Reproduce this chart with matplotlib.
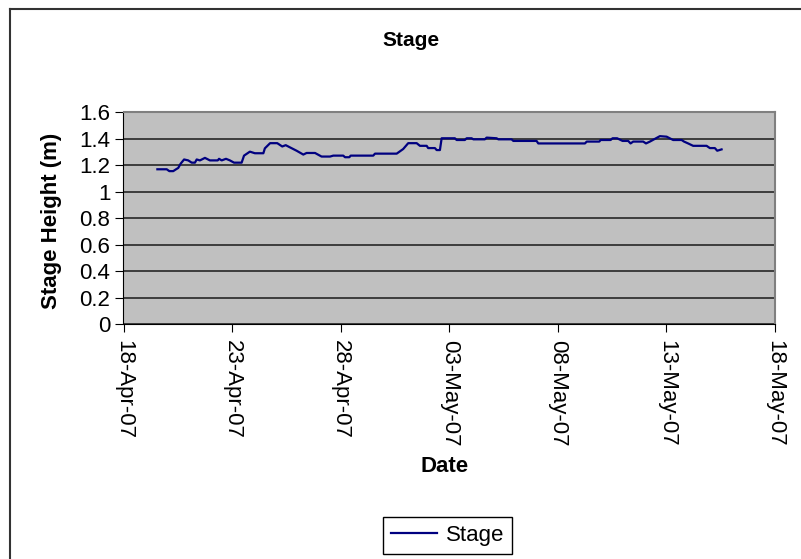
import matplotlib
matplotlib.use('Agg')
import matplotlib.pyplot as plt
import matplotlib.dates as mdates
from matplotlib.lines import Line2D
import numpy as np
import pandas as pd

plt.rcParams['font.family'] = ['Liberation Sans', 'DejaVu Sans']

# stage record (days after 18-Apr-07, metres)
start_date = pd.Timestamp('2007-04-18')
days = [1.56, 1.99, 2.11, 2.29, 2.42, 2.52, 2.63, 2.79, 2.98, 3.14, 3.29, 3.37,
        3.52, 3.75, 3.98, 4.34, 4.40, 4.52, 4.72, 4.90, 5.09, 5.44, 5.55, 5.82,
        6.05, 6.44, 6.51, 6.75, 7.08, 7.31, 7.47, 7.67, 7.97, 8.28, 8.43, 8.82,
        9.12, 9.51, 9.66, 10.12, 10.20, 10.40, 10.46, 11.50, 11.58, 12.58, 12.88,
        13.11, 13.50, 13.65, 13.96, 14.03, 14.34, 14.42, 14.57, 14.65,
        15.26, 15.34, 15.72, 15.80, 16.03, 16.11, 16.64, 16.72, 17.18, 17.26,
        17.87, 17.95, 19.02, 19.10, 21.25, 21.33, 21.91, 21.97, 22.43, 22.52,
        22.73, 22.98, 23.24, 23.35, 23.47, 23.93, 24.06, 24.24, 24.52, 24.70,
        25.01, 25.31, 25.70, 25.81, 26.00, 26.23, 26.85, 27.00, 27.23, 27.34, 27.54]
stage = [1.17, 1.17, 1.156, 1.156, 1.17, 1.18, 1.212, 1.244, 1.237, 1.22, 1.22, 1.244,
         1.237, 1.256, 1.237, 1.237, 1.249, 1.237, 1.249, 1.237, 1.22, 1.22, 1.273, 1.303,
         1.291, 1.291, 1.328, 1.367, 1.367, 1.342, 1.352, 1.335, 1.31, 1.281, 1.293, 1.293,
         1.266, 1.266, 1.273, 1.273, 1.261, 1.261, 1.273, 1.273, 1.288, 1.288, 1.323,
         1.367, 1.367, 1.347, 1.347, 1.33, 1.33, 1.315, 1.315, 1.404,
         1.404, 1.391, 1.391, 1.404, 1.404, 1.396, 1.396, 1.409, 1.404, 1.396,
         1.396, 1.384, 1.384, 1.365, 1.365, 1.379, 1.379, 1.391, 1.391, 1.404,
         1.404, 1.384, 1.384, 1.365, 1.379, 1.379, 1.365, 1.379, 1.404, 1.42,
         1.416, 1.391, 1.391, 1.379, 1.365, 1.347, 1.347, 1.33, 1.33, 1.31, 1.32]

dates = start_date + pd.to_timedelta(days, unit='D')

W, H = 801, 559
fig = plt.figure(figsize=(W / 100, H / 100), dpi=100)
ax = fig.add_axes([123.5 / W, 1 - 324.3 / H, (775 - 123.5) / W, (324.3 - 112.3) / H])

ax.set_facecolor('#C0C0C0')
ax.plot(dates, stage, color='#000080', lw=1.6, label='Stage')

ax.set_xlim(start_date, pd.Timestamp('2007-05-18'))
ax.set_ylim(0, 1.6)
ax.set_yticks(np.arange(0, 1.61, 0.2))
ax.yaxis.set_major_formatter(plt.FuncFormatter(lambda v, p: f'{v:g}'))
ax.set_xticks(pd.date_range('2007-04-18', periods=7, freq='5D'))
ax.xaxis.set_major_formatter(mdates.DateFormatter('%d-%b-%y'))

ax.grid(axis='y', color='#1a1a1a', lw=1.1)
ax.set_axisbelow(True)
for side in ['top', 'right']:
    ax.spines[side].set_color('#808080')
    ax.spines[side].set_linewidth(1.5)
ax.spines['left'].set_color('black')
ax.spines['bottom'].set_color('black')

ax.tick_params(axis='both', direction='out', length=6, color='black', labelsize=16)
ax.tick_params(axis='x', labelrotation=-90, pad=5)
for lbl in ax.get_xticklabels():
    lbl.set_va('top')
    lbl.set_ha('center')

fig.text(411 / W, 1 - 40 / H, 'Stage', ha='center', va='center', fontsize=15, fontweight='bold')
fig.text(52 / W, 1 - 221 / H, 'Stage Height (m)', ha='center', va='center', rotation=90,
         fontsize=16, fontweight='bold')
fig.text(445 / W, 1 - 467 / H, 'Date', ha='center', va='center', fontsize=16, fontweight='bold')

leg = ax.legend(loc='center', bbox_to_anchor=(447.5 / W, 1 - 535.5 / H), bbox_transform=fig.transFigure,
                fancybox=False, framealpha=1, edgecolor='black', fontsize=16,
                handlelength=2.1, borderpad=0.35, handletextpad=0.4)
leg.get_frame().set_linewidth(1)

# chart frame (only top and left visible in crop)
fig.add_artist(Line2D([10 / W, 1], [1 - 9 / H, 1 - 9 / H], color='#333333', lw=1.5))
fig.add_artist(Line2D([10 / W, 10 / W], [0, 1 - 9 / H], color='#333333', lw=1.5))

fig.savefig('out.png', dpi=100)
